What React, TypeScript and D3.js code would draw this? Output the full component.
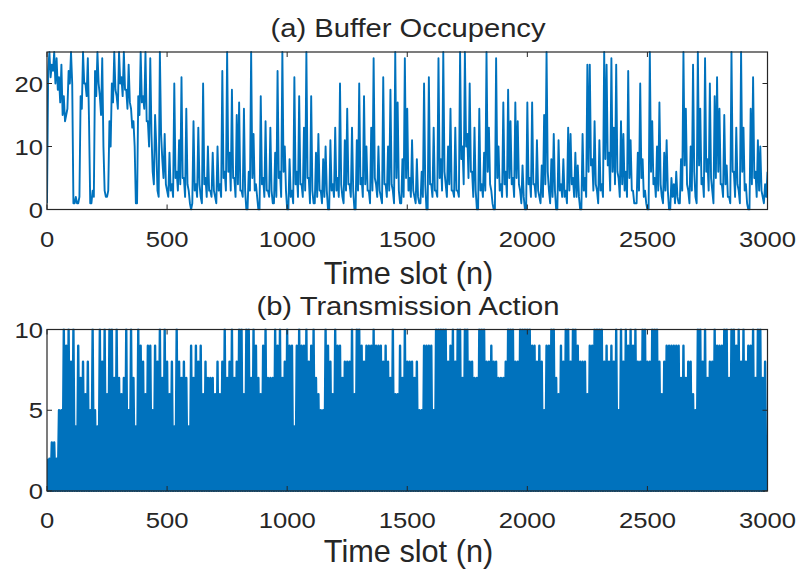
import * as React from "react";
import * as d3 from "d3";

// buffer occupancy, read every 10 slots (0..3000)
const bufferOcc = [
  1, 25, 23, 25, 24, 21, 23, 18, 15, 22,
  25, 1, 2, 1, 18, 25, 20, 24, 1, 3,
  22, 25, 18, 24, 3, 2, 14, 20, 25, 18,
  25, 21, 25, 19, 23, 16, 14, 1, 18, 25,
  18, 25, 14, 24, 6, 15, 3, 25, 8, 12,
  3, 9, 4, 20, 6, 11, 21, 5, 16, 3,
  0, 14, 4, 13, 2, 20, 5, 10, 3, 9,
  2, 10, 4, 22, 6, 25, 9, 19, 5, 15,
  17, 3, 16, 0, 6, 25, 12, 4, 0, 18,
  5, 14, 3, 13, 1, 9, 22, 6, 25, 10,
  0, 8, 3, 21, 6, 18, 4, 13, 25, 5,
  18, 1, 9, 12, 3, 8, 10, 0, 11, 4,
  13, 5, 20, 2, 11, 16, 4, 13, 0, 11,
  20, 5, 18, 10, 3, 13, 24, 4, 10, 2,
  21, 4, 10, 19, 3, 25, 17, 1, 8, 24,
  16, 5, 11, 2, 8, 1, 6, 20, 0, 21,
  4, 13, 3, 24, 8, 25, 4, 10, 16, 3,
  13, 3, 25, 10, 25, 12, 20, 6, 13, 0,
  16, 4, 9, 25, 13, 3, 0, 24, 10, 4,
  17, 6, 19, 14, 5, 17, 14, 3, 7, 0,
  17, 5, 17, 4, 11, 2, 7, 15, 25, 3,
  8, 12, 0, 11, 4, 8, 3, 13, 12, 5,
  9, 7, 0, 12, 5, 23, 23, 8, 14, 3,
  11, 4, 25, 23, 9, 24, 13, 23, 5, 14,
  12, 6, 22, 11, 3, 1, 9, 20, 8, 3,
  0, 25, 14, 5, 10, 17, 2, 9, 11, 0,
  5, 4, 6, 1, 8, 25, 16, 3, 10, 23,
  2, 25, 16, 5, 24, 8, 20, 3, 18, 21,
  16, 4, 15, 7, 2, 25, 6, 13, 3, 25,
  13, 4, 0, 16, 21, 6, 11, 10, 2, 4, 6,
];

// lower edge of the buffer band inside each 10-slot window (at slot +5)
const bufferLow = [
  22, 21, 22, 20, 19, 17, 15, 14, 16, 20,
  20, 1, 1, 2, 16, 20, 18, 14, 1, 2,
  18, 20, 15, 10, 2, 3, 10, 17, 19, 16,
  20, 18, 19, 16, 17, 13, 10, 1, 15, 17,
  16, 14, 10, 12, 4, 10, 2, 12, 5, 4,
  2, 3, 2, 5, 3, 4, 5, 2, 4, 1,
  1, 3, 2, 4, 1, 4, 2, 3, 2, 3,
  1, 3, 2, 5, 3, 6, 3, 5, 2, 4,
  3, 2, 3, 0, 3, 5, 3, 2, 0, 4,
  2, 3, 2, 3, 1, 2, 5, 2, 6, 3,
  0, 2, 1, 4, 2, 4, 2, 3, 5, 1,
  3, 1, 2, 3, 1, 2, 3, 0, 3, 2,
  3, 2, 4, 1, 3, 4, 2, 3, 0, 3,
  4, 2, 4, 3, 1, 3, 5, 2, 3, 1,
  4, 2, 3, 4, 1, 5, 3, 1, 2, 5,
  3, 2, 3, 1, 2, 1, 2, 4, 0, 4,
  2, 3, 2, 5, 3, 6, 2, 4, 3, 2,
  3, 2, 8, 4, 10, 5, 6, 2, 3, 0,
  3, 2, 3, 6, 4, 1, 0, 5, 3, 2,
  4, 2, 5, 4, 2, 5, 4, 1, 2, 0,
  4, 2, 4, 2, 3, 1, 2, 4, 6, 1,
  2, 3, 0, 3, 2, 2, 1, 3, 4, 2,
  2, 2, 0, 3, 2, 6, 7, 3, 4, 1,
  3, 2, 8, 7, 3, 6, 4, 6, 2, 4,
  3, 2, 5, 3, 1, 1, 3, 5, 2, 1,
  0, 6, 4, 2, 3, 4, 1, 3, 3, 0,
  2, 1, 2, 1, 3, 7, 4, 1, 3, 6,
  1, 7, 4, 2, 6, 3, 5, 1, 5, 6,
  4, 2, 4, 2, 1, 6, 2, 4, 1, 6,
  3, 1, 0, 4, 5, 2, 3, 3, 1, 2,
];

// transmission action: peak value in each 10-slot window, floor is 0
const actionPeaks = [
  2, 2, 3, 3, 2, 5, 5, 10, 9, 10,
  8, 10, 4, 9, 7, 8, 6, 8, 5, 10,
  5, 4, 10, 8, 10, 6, 10, 10, 7, 10,
  7, 6, 7, 10, 5, 10, 7, 4, 10, 9,
  8, 6, 9, 9, 5, 9, 8, 10, 7, 10,
  8, 6, 8, 4, 10, 8, 7, 8, 7, 4,
  9, 7, 9, 8, 9, 6, 8, 7, 7, 7,
  6, 8, 6, 8, 10, 7, 8, 10, 7, 8,
  10, 10, 6, 10, 10, 7, 10, 9, 7, 6,
  9, 10, 7, 7, 7, 10, 9, 10, 7, 8,
  10, 9, 9, 4, 9, 10, 9, 9, 10, 8,
  9, 10, 7, 6, 5, 5, 10, 9, 8, 6,
  10, 9, 9, 7, 8, 8, 8, 10, 6, 10,
  10, 9, 8, 9, 9, 9, 10, 9, 9, 9,
  8, 9, 8, 7, 10, 6, 6, 9, 7, 10,
  8, 8, 8, 7, 8, 5, 5, 9, 9, 9,
  9, 5, 10, 10, 10, 10, 10, 8, 9, 10,
  8, 10, 10, 7, 10, 10, 8, 8, 7, 7,
  10, 10, 10, 8, 8, 9, 8, 8, 7, 7,
  7, 8, 10, 10, 10, 8, 8, 10, 10, 10,
  10, 10, 9, 9, 8, 9, 8, 5, 9, 9,
  10, 10, 7, 6, 9, 8, 10, 10, 8, 10,
  10, 9, 8, 8, 8, 6, 9, 9, 10, 10,
  10, 10, 8, 9, 8, 9, 8, 10, 5, 10,
  8, 10, 9, 10, 9, 10, 8, 8, 10, 10,
  8, 8, 10, 10, 10, 8, 6, 8, 9, 9,
  9, 9, 9, 9, 7, 9, 7, 8, 8, 6,
  5, 10, 10, 8, 10, 7, 8, 8, 10, 9,
  9, 9, 10, 10, 7, 10, 10, 9, 10, 8,
  10, 8, 9, 9, 10, 7, 10, 10, 7, 8,
];
const actionFloor = 0;

const xTicks = [0, 500, 1000, 1500, 2000, 2500, 3000];
const bufferTicks = [0, 10, 20];
const actionTicks = [0, 5, 10];

const BLUE = "#0072BD";
const INK = "#262626";
const FONT = "'Liberation Sans', Arial, Helvetica, sans-serif";

const Label = ({ x, y, size, sx = 1, anchor = "middle", children }: any) => (
  <text
    transform={`translate(${x},${y}) scale(${sx},1)`}
    textAnchor={anchor}
    fontSize={size}
    fontFamily={FONT}
    fill={INK}
  >
    {children}
  </text>
);

const Panel = ({ top, bottom, yMax, yTicks, title, path, lineWidth }: any) => {
  const x = d3.scaleLinear().domain([0, 3000]).range([47, 767.5]);
  const y = d3.scaleLinear().domain([0, yMax]).range([bottom, top]);
  const tl = 5;
  return (
    <g>
      <defs>
        <clipPath id={"clip" + top}>
          <rect x={47} y={top - 1} width={720.5} height={bottom - top + 2} />
        </clipPath>
      </defs>
      <path
        d={path(x, y)}
        fill="none"
        stroke={BLUE}
        strokeWidth={lineWidth}
        strokeLinejoin="round"
        clipPath={`url(#clip${top})`}
      />
      {xTicks.map((t) => (
        <g key={"x" + t}>
          <line x1={x(t)} x2={x(t)} y1={bottom} y2={bottom - tl} stroke={INK} />
          <line x1={x(t)} x2={x(t)} y1={top} y2={top + tl} stroke={INK} />
          <Label x={x(t)} y={bottom + 37} size={22.3} sx={1.15}>{t}</Label>
        </g>
      ))}
      {yTicks.map((t: number) => (
        <g key={"y" + t}>
          <line x1={47} x2={47 + tl} y1={y(t)} y2={y(t)} stroke={INK} />
          <line x1={767.5} x2={767.5 - tl} y1={y(t)} y2={y(t)} stroke={INK} />
          <Label x={43} y={y(t) + 8} size={22.3} sx={1.15} anchor="end">{t}</Label>
        </g>
      ))}
      <rect x={47} y={top} width={720.5} height={bottom - top} fill="none" stroke={INK} strokeWidth={1.2} />
      <Label x={408} y={top - 15} size={25.6} sx={1.14}>{title}</Label>
    </g>
  );
};

export default function App() {
  const bufferPath = (x: any, y: any) => {
    const pts: [number, number][] = [];
    bufferOcc.forEach((v, i) => {
      pts.push([i * 10, v]);
      if (i < bufferLow.length) pts.push([i * 10 + 5, bufferLow[i]]);
    });
    return d3
      .line<[number, number]>()
      .x((d) => x(d[0]))
      .y((d) => y(d[1]))(pts) as string;
  };

  const actionPath = (x: any, y: any) => {
    const pts: [number, number][] = [];
    actionPeaks.forEach((v, i) => {
      pts.push([i * 10, v]);
      pts.push([i * 10 + 5, actionFloor]);
    });
    return d3
      .line<[number, number]>()
      .x((d) => x(d[0]))
      .y((d) => y(d[1]))(pts) as string;
  };

  return (
    <svg
      width={801}
      height={569}
      style={{ position: "absolute", left: 0, top: 0, background: "#fff" }}
    >
      <rect width={801} height={569} fill="#fff" />
      <Panel top={52} bottom={209.5} yMax={25} yTicks={bufferTicks} title="(a) Buffer Occupency" path={bufferPath} lineWidth={1.9} />
      <Label x={408.5} y={284} size={30.7}>Time slot (n)</Label>
      <Panel top={329.5} bottom={491} yMax={10} yTicks={actionTicks} title="(b) Transmission Action" path={actionPath} lineWidth={2.4} />
      <Label x={408.5} y={562} size={30.7}>Time slot (n)</Label>
    </svg>
  );
}
